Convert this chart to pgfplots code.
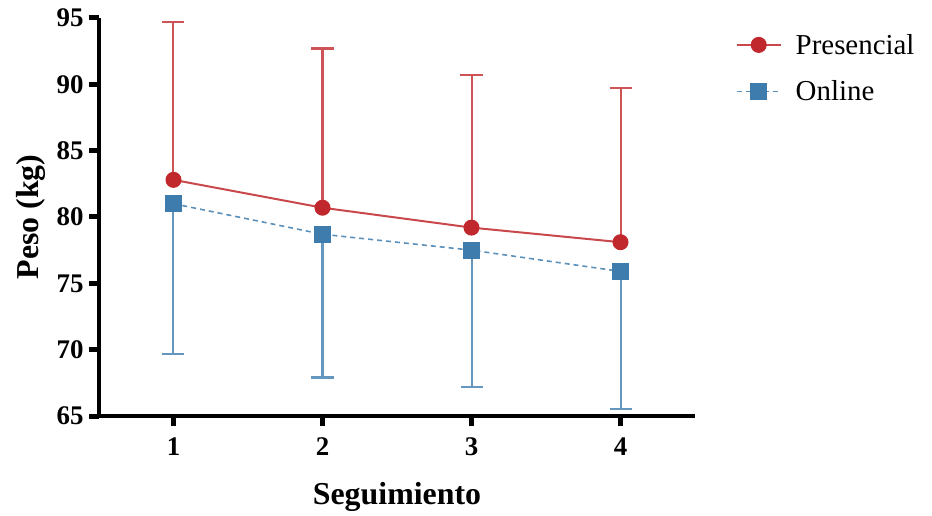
\documentclass[border=0pt]{standalone}
\usepackage{fontspec}
\setmainfont{Liberation Serif}
\usepackage{pgfplots}
\pgfplotsset{compat=1.18}
\definecolor{redc}{RGB}{192,40,45}
\definecolor{bluec}{RGB}{62,124,174}
\begin{document}
\begin{tikzpicture}[x=1bp,y=1bp]
\begin{axis}[
  at={(0,0)}, anchor=south west,
  scale only axis, width=596bp, height=398bp,
  xmin=0.5, xmax=4.5, ymin=65, ymax=95,
  axis x line*=bottom, axis y line*=left,
  axis line style={line width=4.2bp, -},
  xtick={1,2,3,4}, ytick={65,70,75,80,85,90,95},
  tick style={line width=5bp, black},
  every major tick/.append style={line width=5bp, black},
  major tick length=10bp,
  tick align=outside,
  /pgf/number format/assume math mode=true,
  ticklabel style={font=\fontsize{27}{30}\selectfont\bfseries},
  xticklabel style={yshift=-8bp},
  yticklabel style={xshift=-2bp},
  xlabel={Seguimiento}, ylabel={Peso (kg)},
  label style={font=\fontsize{32}{36}\selectfont\bfseries},
  xlabel style={yshift=-20bp},
  ylabel style={yshift=4bp},
  clip=false,
  legend style={at={(1.063,0.97)}, anchor=north west, draw=none, fill=none,
    font=\fontsize{29}{32}\selectfont, row sep=21bp,
    nodes={inner xsep=14bp}},
  legend cell align=left,
  legend image code/.code={
    \draw[#1] (0bp,0bp) -- (44bp,0bp);
    \draw[#1, mark repeat=2, mark phase=2] plot coordinates {(0bp,0bp) (22bp,0bp) (44bp,0bp)};
  },
]
\addplot[color=redc!85!white, line width=2bp, mark=*, mark size=7.5bp,
  mark options={solid, fill=redc, draw=redc, line width=1bp},
  error bars/.cd, y dir=plus, y explicit,
  error bar style={line width=2bp, color=redc!80!white},
  error mark options={rotate=90, mark size=11bp, line width=2.2bp, color=redc!80!white}]
  coordinates {
  (1,82.8) +- (0,11.9)
  (2,80.7) +- (0,12.0)
  (3,79.2) +- (0,11.5)
  (4,78.1) +- (0,11.6)
  };
\addlegendentry{Presencial}
\addplot[color=bluec!85!white, line width=1.6bp, dash pattern=on 5bp off 4bp, mark=square*, mark size=8bp,
  mark options={solid, fill=bluec, draw=bluec, line width=1bp},
  error bars/.cd, y dir=minus, y explicit,
  error bar style={solid, line width=2bp, color=bluec!80!white},
  error mark options={solid, rotate=90, mark size=11bp, line width=2.2bp, color=bluec!80!white}]
  coordinates {
  (1,81.0) +- (0,11.3)
  (2,78.7) +- (0,10.8)
  (3,77.5) +- (0,10.3)
  (4,75.9) +- (0,10.4)
  };
\addlegendentry{Online}
\end{axis}
\pgfresetboundingbox
\path (-99bp,-100bp) rectangle (833bp,416bp);
\end{tikzpicture}
\end{document}
